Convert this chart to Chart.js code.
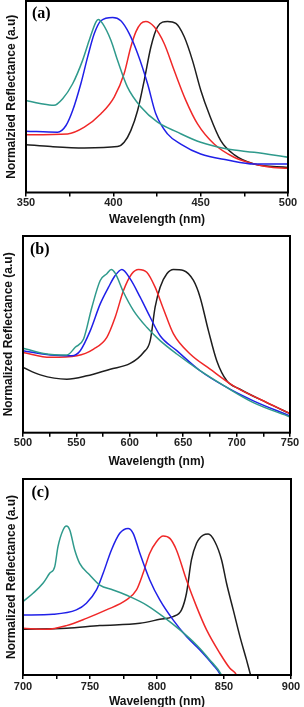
<!DOCTYPE html>
<html>
<head>
<meta charset="utf-8">
<script src="https://cdn.jsdelivr.net/npm/chart.js@4.4.0/dist/chart.umd.min.js"></script>
<style>
html, body { margin: 0; padding: 0; background: #fff; overflow: hidden; width: 304px; height: 707px; }
.panel { position: absolute; left: 0; width: 304px; }
canvas { display: block; }
</style>
</head>
<body>
<div class="panel" style="top:0px"><canvas id="chartA" width="304" height="230"></canvas></div>
<div class="panel" style="top:226px"><canvas id="chartB" width="304" height="244"></canvas></div>
<div class="panel" style="top:470px"><canvas id="chartC" width="304" height="242"></canvas></div>
<script>
// panel (a) : 350-500 nm, [wavelength, normalized reflectance]
var aTeal = [[350,.48],[358,.465],[366,.455],[371,.49],[376.7,.568],[382.4,.69],[386.2,.795],[390,.89],[391.4,.904],[393.8,.883],[398.6,.795],[402.4,.69],[408.1,.55],[415.8,.446],[425.3,.367],[436.7,.315],[450,.262],[465.3,.227],[480.6,.21],[500,.184]];
var aBlue = [[350,.32],[368.1,.315],[372.9,.35],[376.7,.428],[381.4,.568],[385.3,.708],[389.1,.83],[392.9,.897],[399.6,.914],[404.3,.897],[409.1,.83],[413.9,.726],[419.6,.568],[424.3,.411],[431,.306],[438.6,.253],[450,.201],[465.3,.17],[480.6,.149],[500,.149]];
var aRed = [[350,.302],[373.8,.306],[383.4,.341],[392.9,.411],[400.5,.498],[406.2,.621],[410,.76],[412.9,.839],[415.8,.883],[418.6,.893],[423.4,.865],[429.1,.778],[434.8,.638],[441.5,.481],[448.2,.358],[457.7,.253],[469.1,.184],[480.6,.149],[488.2,.135],[500,.126]];
var aBlack = [[350,.25],[364.3,.24],[383.4,.233],[402.4,.24],[406.2,.262],[410,.323],[413.9,.428],[417.7,.586],[421.5,.76],[425.3,.865],[431,.893],[435.8,.883],[440.6,.813],[445.3,.69],[450.1,.533],[454.8,.411],[461.5,.271],[469.1,.198],[480.6,.149],[500,.131]];

// panel (b) : 500-750 nm
var bTeal = [[500,.43],[519.3,.403],[541.1,.395],[548.9,.434],[556.7,.476],[564.5,.638],[572.3,.774],[578.5,.808],[582.6,.83],[586.3,.811],[594.1,.714],[603.5,.621],[615.9,.536],[628.4,.468],[644,.4],[665.8,.315],[690.8,.23],[715.7,.153],[750,.08]];
var bBlue = [[500,.417],[525.6,.395],[545.8,.391],[553.6,.417],[563,.519],[572.3,.655],[580.1,.74],[586.3,.799],[592.6,.83],[600.4,.782],[609.7,.689],[619.1,.587],[628.4,.493],[644,.417],[665.8,.315],[690.8,.23],[715.7,.162],[750,.085]];
var bRed = [[500,.408],[525.6,.383],[550.5,.391],[566.1,.425],[578.5,.485],[586.3,.587],[594.1,.723],[601.9,.808],[608.2,.83],[615.9,.816],[623.7,.74],[631.5,.629],[640.9,.502],[656.5,.4],[675.2,.323],[697,.238],[721.9,.17],[750,.097]];
var bBlack = [[500,.332],[516.2,.294],[541.1,.272],[559.8,.289],[581.7,.323],[600.4,.352],[612.8,.408],[619.1,.468],[623.7,.638],[628.4,.74],[634.7,.808],[640.9,.83],[650.2,.825],[659.6,.774],[665.8,.689],[673.6,.519],[681.4,.366],[690.8,.264],[703.2,.221],[728.2,.153],[750,.097]];

// panel (c) : 700-900 nm
var cTeal = [[700,.374],[707.5,.417],[714.9,.468],[719.9,.519],[723.7,.553],[726.1,.655],[729.9,.74],[732.4,.76],[734.9,.74],[738.6,.638],[742.3,.57],[749.8,.51],[757.3,.459],[767.2,.434],[779.7,.4],[792.2,.357],[804.6,.298],[817.1,.23],[829.5,.153],[839.4,.077],[848.2,0],[850,-.03]];
var cBlue = [[700,.306],[722.4,.31],[739.8,.332],[747.3,.366],[754.8,.434],[759.8,.519],[766,.638],[772.2,.723],[778.4,.748],[782.2,.723],[787.2,.621],[794.6,.485],[802.1,.383],[812,.281],[822,.196],[832,.128],[841.9,.051],[847.4,0],[849,-.03]];
var cRed = [[700,.238],[717.4,.233],[732.4,.252],[747.3,.289],[762.2,.332],[777.2,.383],[784.7,.434],[789.6,.519],[794.6,.621],[799.6,.68],[804.6,.709],[809.6,.697],[814.5,.638],[822,.485],[829.5,.349],[837,.23],[846.9,.111],[854.4,.034],[859.4,0],[861,-.03]];
var cBlack = [[700,.233],[732.4,.238],[757.3,.252],[787.2,.264],[802.1,.284],[812,.298],[818.3,.332],[822,.417],[825.7,.587],[829.5,.672],[834.5,.714],[838.2,.719],[843.2,.68],[848.2,.587],[851.9,.468],[856.9,.332],[861.9,.196],[866.8,.077],[869.8,0],[871,-.03]];

var xTitle = 'Wavelength (nm)';
var yTitles = ['Normalzied Reflectance (a.u)', 'Normalized Reflectance (a.u)', 'Normalized Reflectance (a.u)'];
var panelLabels = ['(a)', '(b)', '(c)'];

var colTeal = '#2f9a8c', colBlue = '#2020e8', colRed = '#f02828', colBlack = '#1e1e1e';

// draws the box around the plot and the (a)/(b)/(c) label
var framePlugin = {
    id: 'frame',
    afterDatasetsDraw: function(chart, args, opts) {
        var a = chart.chartArea, ctx = chart.ctx;
        ctx.save();
        ctx.strokeStyle = '#000';
        ctx.lineWidth = 2;
        ctx.strokeRect(a.left, a.top, a.right - a.left, a.bottom - a.top);
        ctx.font = 'bold 16px "Liberation Serif", "Times New Roman", serif';
        ctx.fillStyle = '#000';
        ctx.textBaseline = 'middle';
        ctx.fillText(opts.label, a.left + opts.dx, a.top + opts.dy);
        ctx.restore();
    }
};

function toPoints(arr) {
    return arr.map(function(p) { return {x: p[0], y: p[1]}; });
}

function makeChart(id, series, p) {
    var ctx = document.getElementById(id).getContext('2d');
    var colors = [colTeal, colBlue, colRed, colBlack];
    return new Chart(ctx, {
        type: 'line',
        data: {
            datasets: series.map(function(s, i) {
                return {
                    data: toPoints(s),
                    borderColor: colors[i],
                    borderWidth: 1.5,
                    pointRadius: 0,
                    fill: false,
                    cubicInterpolationMode: 'monotone'
                };
            })
        },
        options: {
            responsive: false,
            animation: false,
            devicePixelRatio: 1,
            layout: { padding: { top: p.top, right: p.right, left: 0, bottom: 0 } },
            plugins: {
                legend: { display: false },
                tooltip: { enabled: false },
                frame: { label: p.label, dx: p.dx, dy: p.dy }
            },
            scales: {
                x: {
                    type: 'linear',
                    min: p.xmin,
                    max: p.xmax,
                    border: { display: false },
                    grid: { display: true, drawOnChartArea: false, drawTicks: true, tickLength: 4, color: '#000', lineWidth: 1.5 },
                    ticks: {
                        stepSize: 25,
                        autoSkip: false,
                        maxRotation: 0,
                        padding: p.tickPad,
                        color: '#222',
                        font: { family: '"Liberation Sans", Arial, sans-serif', size: 11, weight: 'bold' },
                        callback: function(v) { return (v - p.xmin) % 50 === 0 ? v : ''; }
                    },
                    title: {
                        display: true,
                        text: xTitle,
                        color: '#111',
                        font: { family: '"Liberation Sans", Arial, sans-serif', size: 12, weight: 'bold' },
                        padding: { top: 0, bottom: p.titlePad }
                    },
                    afterFit: function(s) { s.height = p.xHeight; }
                },
                y: {
                    min: 0,
                    max: 1,
                    border: { display: false },
                    grid: { display: false },
                    ticks: { display: false },
                    title: {
                        display: true,
                        text: p.yTitle,
                        color: '#111',
                        font: { family: '"Liberation Sans", Arial, sans-serif', size: 12, weight: 'bold' },
                        padding: { top: p.yTitlePad, bottom: 0 }
                    },
                    afterFit: function(s) { s.width = p.left; }
                }
            }
        },
        plugins: [framePlugin]
    });
}

document.addEventListener('DOMContentLoaded', function() {
    makeChart('chartA', [aTeal, aBlue, aRed, aBlack], {
        xmin: 350, xmax: 500, top: 1, right: 16, left: 26,
        xHeight: 37.5, tickPad: 0, titlePad: 2.8, yTitlePad: 4.6,
        yTitle: yTitles[0], label: panelLabels[0], dx: 6, dy: 13
    });
    makeChart('chartB', [bTeal, bBlue, bRed, bBlack], {
        xmin: 500, xmax: 750, top: 10, right: 14, left: 23,
        xHeight: 37.3, tickPad: 0, titlePad: 0.8, yTitlePad: 1,
        yTitle: yTitles[1], label: panelLabels[1], dx: 7, dy: 14
    });
    makeChart('chartC', [cTeal, cBlue, cRed, cBlack], {
        xmin: 700, xmax: 900, top: 9, right: 13, left: 23,
        xHeight: 37, tickPad: 1.5, titlePad: 3.3, yTitlePad: 4.8,
        yTitle: yTitles[2], label: panelLabels[2], dx: 8.5, dy: 14
    });
});
</script>
</body>
</html>
